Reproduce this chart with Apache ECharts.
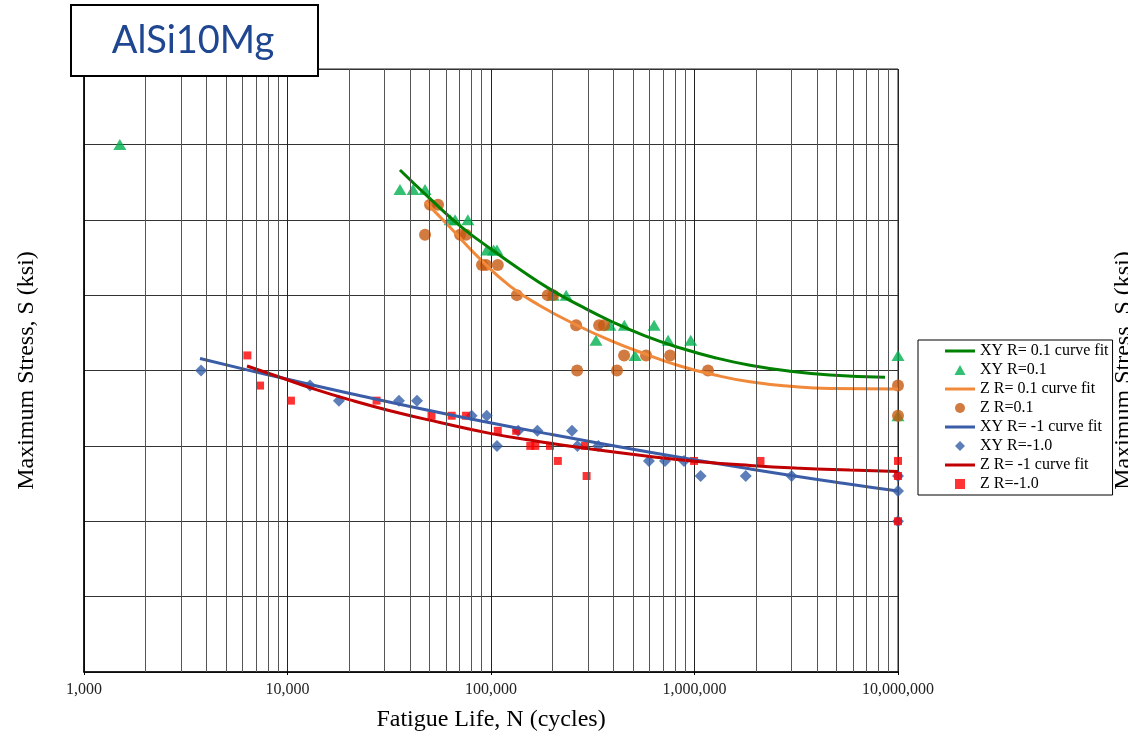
<!DOCTYPE html>
<html>
<head>
<meta charset="utf-8">
<script src="https://cdn.jsdelivr.net/npm/echarts@6/dist/echarts.min.js"></script>
<style>html,body{margin:0;padding:0;background:#fff;}#c{width:1128px;height:735px;}</style>
</head>
<body>
<div id="c"></div>
<script>
// ---- data (N cycles, S ksi) ----
var xyR01Points = [[1500,35],[35700,32],[41400,32],[47400,32],[63000,30],[66600,30],[77000,30],[95400,28],[103000,28],[107000,28],[202000,25],[234000,25],[328000,22],[384000,23],[452000,23],[511000,21],[633000,23],[742000,22],[958000,22],[10000000,21],[10000000,17]];
var zR01Points = [[47400,29],[50200,31],[54900,31],[70500,29],[75400,29],[90300,27],[94500,27],[108000,27],[134000,25],[190000,25],[202000,25],[262000,23],[340000,23],[359000,23],[265000,20],[416000,20],[451000,21],[578000,21],[759000,21],[1165000,20],[10000000,19],[10000000,17]];
var xyRm1Points = [[3760,20],[12900,19],[17900,18],[35300,18],[43300,18],[80300,17],[95300,17],[107000,15],[136000,16],[169000,16],[250000,16],[266000,15],[337000,15],[597000,14],[716000,14],[888000,14],[1072000,13],[1786000,13],[3000000,13],[10000000,12],[10000000,13],[10000000,10]];
var zRm1Points = [[6350,21],[7330,19],[10400,18],[27400,18],[51000,17],[64100,17],[75400,17],[108000,16],[133000,16],[156000,15],[165000,15],[195000,15],[213000,14],[290000,15],[295000,13],[995000,14],[2110000,14],[10000000,14],[10000000,13],[10000000,10]];

var xyR01Fit = [[35700,33.3],[50150,31.4],[70430,29.6],[98880,28.1],[138800,26.7],[194900,25.4],[273700,24.3],[384400,23.3],[571200,22.3],[848700,21.5],[1261000,20.85],[1874000,20.35],[2947000,19.95],[4633000,19.7],[8633000,19.55]];
var zR01Fit = [[47400,31.2],[62880,29.5],[88300,27.4],[124000,25.6],[174100,24.3],[264600,23.0],[384400,22.0],[584200,21.05],[848700,20.3],[1261000,19.7],[1874000,19.25],[2947000,18.95],[4633000,18.8],[10000000,18.77]];
var xyRm1Fit = [[3716,20.8],[6324,20.04],[9187,19.53],[20280,18.48],[62880,17.07],[194900,15.78],[604200,14.58],[1874000,13.47],[5810000,12.45],[10000000,12.0]];
var zRm1Fit = [[6324,20.3],[9187,19.55],[13350,18.8],[20280,18.05],[31890,17.33],[56160,16.55],[98880,15.83],[174100,15.28],[306600,14.8],[604200,14.3],[1064000,13.95],[1874000,13.7],[3299000,13.52],[5810000,13.4],[10000000,13.3]];

var seriesNames = ['XY R= 0.1 curve fit','XY R=0.1','Z R= 0.1 curve fit','Z R=0.1','XY R= -1 curve fit','XY R=-1.0','Z R= -1 curve fit','Z R=-1.0'];

// minor log gridlines (2..9 in each decade)
var minorGrid = [];
for (var d = 3; d < 7; d++) {
  for (var m = 2; m <= 9; m++) minorGrid.push({xAxis: m * Math.pow(10, d)});
}

var serif = 'Liberation Serif';
var lineIcon = 'path://M0,0 H30 V3 H0 Z';
var chart = echarts.init(document.getElementById('c'), null, {renderer: 'canvas'});
chart.setOption({
  animation: false,
  backgroundColor: '#fff',
  grid: {left: 84, right: 230, top: 69, bottom: 63, show: true, borderColor: '#222', borderWidth: 1,
         containLabel: false, outerBoundsMode: 'none'},
  xAxis: {
    type: 'log', logBase: 10, min: 1000, max: 10000000,
    name: 'Fatigue Life, N (cycles)', nameLocation: 'middle', nameGap: 36,
    nameTextStyle: {fontFamily: serif, fontSize: 24, color: '#000'},
    axisLine: {show: true, lineStyle: {color: '#000', width: 1.5}},
    axisTick: {show: true, length: 3, lineStyle: {color: '#000'}},
    axisLabel: {fontFamily: serif, fontSize: 16, color: '#222', margin: 10,
      formatter: function (v) { return Number(v).toLocaleString('en-US'); }},
    splitLine: {show: true, lineStyle: {color: '#222', width: 1}}
  },
  yAxis: [{
    type: 'value', min: 0, max: 40, interval: 5,
    name: 'Maximum Stress, S (ksi)', nameLocation: 'middle', nameGap: 45, nameRotate: 90,
    nameTextStyle: {fontFamily: serif, fontSize: 24, color: '#000'},
    axisLine: {show: true, lineStyle: {color: '#000', width: 1.5}},
    axisTick: {show: false},
    axisLabel: {show: false},
    splitLine: {show: true, lineStyle: {color: '#333', width: 1}}
  }, {
    type: 'value', min: 0, max: 40, interval: 5, position: 'right',
    name: 'Maximum Stress, S (ksi)', nameLocation: 'middle', nameGap: 214, nameRotate: 90,
    nameTextStyle: {fontFamily: serif, fontSize: 24, color: '#000'},
    axisLine: {show: false}, axisTick: {show: false}, axisLabel: {show: false}, splitLine: {show: false}
  }],
  legend: {
    data: [
      {name: seriesNames[0], icon: lineIcon},
      {name: seriesNames[1], icon: 'path://M5,0 L10,9 L0,9 Z'},
      {name: seriesNames[2], icon: lineIcon},
      {name: seriesNames[3], icon: 'circle'},
      {name: seriesNames[4], icon: lineIcon},
      {name: seriesNames[5], icon: 'path://M5,0 L10,5 L5,10 L0,5 Z'},
      {name: seriesNames[6], icon: lineIcon},
      {name: seriesNames[7], icon: 'path://M0,0 H8 V8 H0 Z'}
    ],
    orient: 'vertical', left: 918, top: 340,
    padding: [3, 4, 3, 27],
    itemWidth: 30, itemHeight: 10, itemGap: 3, symbolKeepAspect: true,
    backgroundColor: '#fff', borderColor: '#000', borderWidth: 1, borderRadius: 0,
    textStyle: {fontFamily: serif, fontSize: 16, color: '#000', lineHeight: 16},
    z: 10
  },
  graphic: [
    {type: 'rect', left: 70, top: 4, z: 100, shape: {width: 247, height: 71},
     style: {fill: '#fff', stroke: '#000', lineWidth: 2}},
    {type: 'text', x: 193, y: 41, z: 101,
     style: {text: 'AlSi10Mg', fontFamily: 'Lato', fontSize: 38, fill: '#1F4690', align: 'center', verticalAlign: 'middle'}}
  ],
  series: [
    {name: 'gridMinor', type: 'line', data: [], silent: true, symbol: 'none',
     markLine: {silent: true, symbol: 'none', label: {show: false}, animation: false,
       lineStyle: {color: '#555', width: 1, type: 'solid'}, data: minorGrid}},
    {name: seriesNames[1], type: 'scatter', data: xyR01Points, symbol: 'triangle', symbolSize: [13, 11],
     itemStyle: {color: '#00B050'}, z: 3},
    {name: seriesNames[3], type: 'scatter', data: zR01Points, symbol: 'circle', symbolSize: 12,
     itemStyle: {color: '#C55A11'}, z: 3},
    {name: seriesNames[5], type: 'scatter', data: xyRm1Points, symbol: 'diamond', symbolSize: 12,
     itemStyle: {color: '#335FA8'}, z: 3},
    {name: seriesNames[7], type: 'scatter', data: zRm1Points, symbol: 'rect', symbolSize: 8,
     itemStyle: {color: '#FF0000'}, z: 3},
    {name: seriesNames[0], type: 'line', data: xyR01Fit, smooth: true, symbol: 'none',
     lineStyle: {color: '#008000', width: 3}, itemStyle: {color: '#008000'}, z: 4},
    {name: seriesNames[2], type: 'line', data: zR01Fit, smooth: true, symbol: 'none',
     lineStyle: {color: '#F08A3A', width: 3}, itemStyle: {color: '#F08A3A'}, z: 4},
    {name: seriesNames[4], type: 'line', data: xyRm1Fit, smooth: true, symbol: 'none',
     lineStyle: {color: '#3B5DA8', width: 3}, itemStyle: {color: '#3B5DA8'}, z: 4},
    {name: seriesNames[6], type: 'line', data: zRm1Fit, smooth: true, symbol: 'none',
     lineStyle: {color: '#C00000', width: 3}, itemStyle: {color: '#C00000'}, z: 4}
  ]
});
</script>
</body>
</html>
